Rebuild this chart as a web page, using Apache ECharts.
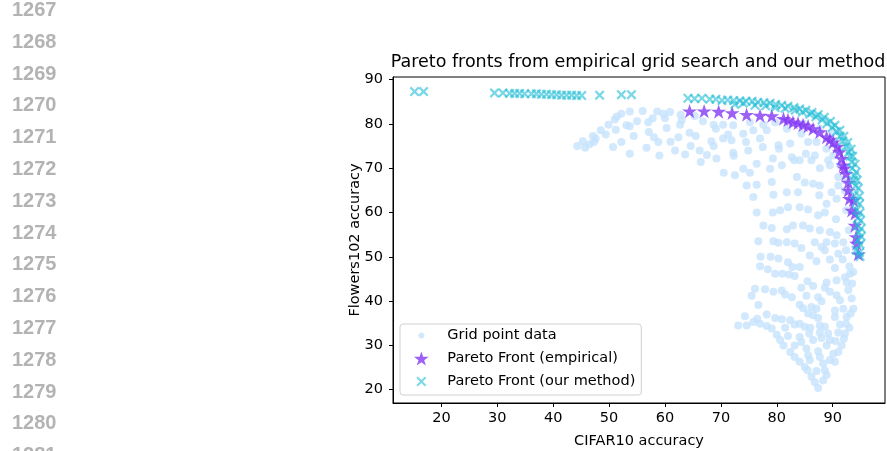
<!DOCTYPE html>
<html>
<head>
<meta charset="utf-8">
<script src="https://cdn.jsdelivr.net/npm/echarts@6/dist/echarts.min.js"></script>
<style>
  html, body { margin: 0; padding: 0; background: #fff; }
  #chart { width: 887px; height: 451px; }
</style>
</head>
<body>
<div id="chart"></div>
<script>
// line numbers of the page margin
const lineNumbers = [1267, 1268, 1269, 1270, 1271, 1272, 1273, 1274, 1275, 1276, 1277, 1278, 1279, 1280, 1281];

const xTicks = [20, 30, 40, 50, 60, 70, 80, 90];
const yTicks = [20, 30, 40, 50, 60, 70, 80, 90];

// grid search results (CIFAR10 acc, Flowers102 acc)
const gridPoints = [
    [44.3, 75.0], [45.3, 76.1], [45.7, 74.6], [46.5, 75.4], [47.1, 77.3], [47.6, 76.7], [47.3, 75.9],
    [48.5, 78.6], [49.4, 77.6], [49.9, 79.8], [50.7, 74.8], [51.0, 81.0], [51.4, 81.7], [52.2, 82.3],
    [51.2, 78.7], [52.2, 75.9], [53.1, 79.7], [53.7, 79.5], [53.7, 82.8], [53.7, 73.3], [54.4, 77.3],
    [55.0, 80.6], [56.0, 82.9], [56.7, 74.6], [57.1, 78.2], [57.0, 80.4], [57.8, 81.3], [58.6, 82.8],
    [58.8, 75.9], [59.0, 72.9], [59.7, 82.3], [60.0, 81.3], [60.9, 82.7], [60.3, 79.1], [61.8, 74.0],
    [62.4, 77.0], [62.7, 79.8], [62.8, 82.1], [63.6, 73.1], [64.4, 78.0], [64.6, 75.0], [65.3, 81.8],
    [66.2, 74.0], [66.4, 71.4], [66.8, 80.6], [68.3, 76.1], [68.7, 79.8], [68.7, 75.0], [69.1, 78.9],
    [69.2, 72.2], [70.4, 79.8], [70.4, 76.7], [72.2, 79.7], [71.3, 77.6], [71.9, 76.3], [72.2, 73.5],
    [72.3, 72.8], [70.5, 69.0], [74.0, 77.8], [74.5, 75.9], [74.9, 74.0], [75.2, 80.4], [75.8, 78.6],
    [76.4, 71.0], [77.0, 76.7], [77.5, 74.8], [77.6, 79.8], [78.2, 78.6], [78.8, 69.9], [79.3, 72.2],
    [79.7, 80.4], [80.3, 75.2], [80.4, 74.4], [80.9, 70.7], [81.8, 78.9], [82.4, 75.6], [82.7, 72.5],
    [83.1, 71.8], [84.1, 71.8], [84.4, 77.8], [84.7, 80.1], [85.2, 73.3], [85.6, 75.9], [86.2, 71.8],
    [86.8, 72.9], [87.1, 75.9], [87.7, 78.9], [87.7, 70.0], [88.9, 74.4], [89.2, 71.8], [89.5, 70.7],
    [89.8, 77.8], [90.1, 72.9], [91.0, 68.0], [72.5, 68.4], [74.0, 69.9], [75.2, 69.0], [74.6, 66.1],
    [76.4, 66.3], [79.1, 66.9], [79.4, 64.0], [81.8, 64.6], [83.6, 68.0], [83.8, 64.6], [85.0, 66.8],
    [86.5, 66.5], [87.6, 63.9], [87.7, 66.1], [88.9, 62.0], [89.8, 64.6], [90.7, 63.1], [91.0, 66.1],
    [75.8, 63.5], [76.4, 60.0], [79.3, 60.0], [80.6, 60.5], [82.0, 61.2], [84.1, 61.2], [85.6, 60.7],
    [87.4, 59.4], [88.6, 60.0], [90.6, 58.5], [77.6, 57.1], [79.1, 56.5], [81.8, 56.2], [82.9, 57.1],
    [84.7, 57.1], [85.9, 56.4], [87.7, 56.0], [89.5, 55.6], [90.7, 54.9], [76.7, 53.5], [79.4, 53.5],
    [80.3, 53.2], [81.8, 53.3], [83.2, 53.0], [84.4, 52.0], [86.8, 53.3], [88.9, 53.3], [90.4, 53.0],
    [91.9, 53.3], [91.3, 74.0], [92.2, 65.0], [92.4, 60.5], [92.9, 56.0], [91.3, 70.7], [92.2, 67.3],
    [77.1, 50.0], [78.9, 50.0], [80.3, 49.6], [82.0, 48.8], [82.8, 47.7], [84.1, 47.7], [85.9, 50.3],
    [87.1, 49.0], [88.0, 52.2], [88.6, 51.5], [89.5, 49.4], [90.4, 47.5], [91.0, 50.7], [91.8, 49.4],
    [92.4, 51.5], [77.0, 47.9], [78.4, 47.2], [79.7, 46.2], [81.0, 46.2], [82.2, 46.0], [83.2, 45.7],
    [85.5, 44.5], [86.5, 43.4], [88.9, 44.2], [90.7, 44.7], [92.2, 45.4], [93.1, 46.2], [93.7, 46.6],
    [92.5, 44.2], [84.4, 43.0], [76.1, 42.8], [75.5, 41.2], [77.9, 42.7], [79.4, 42.1], [80.9, 42.4],
    [81.5, 41.5], [82.7, 40.9], [85.3, 41.2], [87.4, 40.9], [88.0, 40.0], [88.6, 43.0], [89.5, 42.1],
    [90.7, 41.3], [91.3, 40.2], [93.4, 40.6], [93.7, 38.3], [93.2, 37.2], [76.7, 39.1], [84.1, 39.2],
    [84.7, 38.4], [86.2, 38.7], [87.1, 38.3], [90.4, 37.9], [91.9, 38.3], [74.3, 36.6], [78.2, 37.0],
    [79.7, 36.2], [80.9, 35.9], [82.4, 35.7], [85.6, 37.2], [86.5, 36.8], [87.4, 36.2], [90.4, 36.4],
    [92.5, 36.4], [73.1, 34.5], [74.6, 34.5], [75.8, 35.3], [77.0, 34.9], [78.2, 34.4], [79.1, 33.8],
    [83.2, 34.7], [84.1, 34.9], [85.0, 34.2], [87.7, 34.5], [88.6, 34.2], [91.3, 34.7], [92.4, 34.9],
    [80.0, 32.4], [82.0, 32.1], [84.1, 31.9], [85.8, 32.7], [87.7, 32.9], [89.2, 32.7], [91.0, 32.9],
    [92.2, 32.7], [80.6, 31.2], [81.2, 30.0], [83.2, 30.0], [84.4, 30.8], [86.5, 31.2], [88.0, 31.7],
    [89.5, 31.2], [91.6, 30.0], [82.4, 28.5], [83.2, 27.4], [85.3, 29.3], [87.4, 28.7], [88.9, 30.0],
    [90.1, 28.1], [91.0, 28.5], [84.1, 26.3], [85.0, 25.1], [85.6, 27.8], [85.9, 26.7], [87.7, 27.4],
    [88.3, 25.9], [89.5, 26.7], [90.4, 26.3], [85.5, 24.4], [86.2, 22.9], [86.8, 21.7], [87.4, 20.4],
    [88.6, 24.4], [88.9, 23.3], [88.3, 22.1], [87.1, 24.2],
    [93.0, 47.8], [93.5, 44.0], [92.8, 42.5], [93.0, 34.0], [92.0, 31.5], [90.5, 31.0], [86.0, 34.0],
    [81.5, 34.0], [76.5, 36.0], [58.0, 77.0], [61.0, 76.0], [65.5, 77.3], [67.5, 73.0], [63.0, 80.9]
];

const empiricalFront = [
    [64.4, 82.9], [67.0, 82.9], [69.6, 82.8], [72.0, 82.5], [74.6, 82.1], [77.0, 81.9], [79.1, 81.8],
    [81.2, 81.2], [82.0, 80.9], [82.9, 80.4], [83.8, 80.2], [84.7, 79.8], [85.6, 79.5], [86.5, 78.9],
    [87.7, 78.2], [88.9, 77.0], [89.5, 76.5], [90.1, 75.9], [90.8, 74.9], [91.2, 73.7], [91.6, 72.2],
    [91.9, 70.7], [92.1, 70.0], [92.4, 68.8], [92.8, 66.8], [92.8, 65.0], [93.0, 63.1], [93.7, 62.8],
    [93.4, 60.5], [94.0, 59.8], [94.0, 57.1], [94.2, 54.5], [94.3, 53.0], [94.6, 50.6]
];

const ourFront = [
    [15.2, 87.3], [16.8, 87.3],
    [29.5, 87.0], [31.0, 87.0], [32.2, 86.9], [33.1, 86.9], [34.0, 86.9], [34.9, 86.8], [36.1, 86.8],
    [37.0, 86.8], [37.9, 86.7], [38.8, 86.7], [39.7, 86.6], [40.6, 86.6], [41.5, 86.5], [42.4, 86.5],
    [43.3, 86.5], [44.2, 86.4], [45.1, 86.4],
    [48.3, 86.5], [52.2, 86.6], [54.0, 86.6],
    [64.1, 85.8], [65.3, 85.7], [66.6, 85.8], [68.0, 85.6], [69.1, 85.6], [70.2, 85.3], [71.2, 85.4],
    [72.3, 85.3], [73.4, 85.2], [74.5, 85.1], [75.6, 85.1], [76.6, 84.9], [77.7, 84.8], [78.8, 84.7],
    [79.8, 84.4], [80.9, 84.2], [82.0, 84.0], [83.1, 83.7], [84.1, 83.4], [85.2, 83.1], [86.3, 82.6],
    [87.4, 82.1], [88.5, 81.5], [89.6, 80.6], [90.4, 79.7], [91.3, 78.6], [92.0, 77.2], [92.7, 75.8],
    [93.3, 74.3], [93.6, 72.7], [94.0, 70.9], [94.2, 69.1], [94.4, 67.3], [94.6, 65.5], [94.8, 63.7],
    [94.8, 61.9], [94.9, 60.0], [95.0, 58.2], [95.1, 56.4], [95.1, 54.6], [94.9, 52.8], [94.8, 51.0],
    [94.9, 50.1],
    [72.5, 84.4], [76.1, 84.2], [79.7, 83.7], [83.3, 83.1], [85.9, 82.2], [88.1, 80.9], [89.9, 79.2],
    [91.3, 77.2], [92.4, 74.9], [93.1, 72.7], [93.5, 70.0], [93.7, 67.3], [93.9, 63.9], [94.2, 60.5],
    [94.4, 57.1], [94.6, 53.7],
    [74.0, 84.7], [78.0, 84.1], [81.5, 83.5], [84.6, 82.7], [87.0, 81.6], [89.0, 80.1], [90.7, 78.3],
    [91.8, 76.2], [92.9, 73.6], [93.4, 71.4], [93.9, 68.3], [94.1, 66.0], [94.3, 62.5], [94.6, 58.8],
    [94.7, 55.5], [94.2, 51.5]
];

const starPath = 'path://M50,2L61.8,37.6L99,37.6L68.9,59.6L80.4,95.2L50,73.2L19.6,95.2L31.1,59.6L1,37.6L38.2,37.6Z';
const crossPath = 'path://M0,1.6L1.6,0L5,3.4L8.4,0L10,1.6L6.6,5L10,8.4L8.4,10L5,6.6L1.6,10L0,8.4L3.4,5Z';
// legend icons padded with empty moves so they draw smaller than itemHeight
const dotIcon = 'path://M0,0M14,14M10,7A3,3,0,1,1,4,7A3,3,0,1,1,10,7Z';
const crossIcon = 'path://M0,0M14,14M2,3.4L3.4,2L7,5.6L10.6,2L12,3.4L8.4,7L12,10.6L10.6,12L7,8.4L3.4,12L2,10.6L5.6,7Z';
const font = 'DejaVu Sans';

const chart = echarts.init(document.getElementById('chart'));

const option = {
    animation: false,
    title: {
        text: 'Pareto fronts from empirical grid search and our method',
        left: 633,
        top: 48,
        textAlign: 'center',
        textStyle: { fontFamily: font, fontSize: 17.5, fontWeight: 'normal', color: '#000' }
    },
    graphic: lineNumbers.map((n, i) => ({
        type: 'text',
        left: 12,
        top: i * 31.8 + 0.5,
        style: { text: String(n), font: 'bold 20px "Liberation Sans"', fill: '#b3b3b3' }
    })),
    legend: {
        orient: 'vertical',
        left: 400,
        top: 324,
        padding: [4, 6, 6, 14],
        itemWidth: 42,
        itemHeight: 14,
        itemGap: 8,
        borderColor: '#d0d0d0',
        borderWidth: 1,
        borderRadius: 3,
        backgroundColor: 'rgba(255,255,255,0.8)',
        textStyle: { fontFamily: font, fontSize: 14.5, color: '#000', lineHeight: 14 },
        data: [
            { name: 'Grid point data', icon: dotIcon },
            { name: 'Pareto Front (empirical)' },
            { name: 'Pareto Front (our method)', icon: crossIcon }
        ]
    },
    grid: {
        left: 393, top: 77, width: 492, height: 326,
        outerBoundsMode: 'none',
        show: true, borderColor: '#000', borderWidth: 1
    },
    xAxis: {
        type: 'value',
        min: 11.34, max: 99.36,
        name: 'CIFAR10 accuracy',
        nameLocation: 'middle',
        nameGap: 31,
        nameMoveOverlap: false,
        nameTextStyle: { fontFamily: font, fontSize: 14.5, color: '#000' },
        splitLine: { show: false },
        axisLine: { lineStyle: { color: '#000' } },
        axisTick: { length: 4, lineStyle: { color: '#000' }, customValues: xTicks },
        axisLabel: { fontFamily: font, fontSize: 14.5, color: '#000', margin: 8, customValues: xTicks }
    },
    yAxis: {
        type: 'value',
        min: 17.0, max: 90.6,
        name: 'Flowers102 accuracy',
        nameLocation: 'middle',
        nameGap: 30,
        nameMoveOverlap: false,
        nameTextStyle: { fontFamily: font, fontSize: 14.5, color: '#000' },
        splitLine: { show: false },
        axisLine: { show: true, lineStyle: { color: '#000' } },
        axisTick: { show: true, length: 4, lineStyle: { color: '#000' }, customValues: yTicks },
        axisLabel: { fontFamily: font, fontSize: 14.5, color: '#000', margin: 10, customValues: yTicks }
    },
    series: [
        {
            name: 'Grid point data',
            type: 'scatter',
            data: gridPoints,
            symbol: 'circle',
            symbolSize: 8,
            itemStyle: { color: '#c5e2fc' }
        },
        {
            name: 'Pareto Front (empirical)',
            type: 'scatter',
            data: empiricalFront,
            symbol: starPath,
            symbolKeepAspect: true,
            symbolSize: 15,
            itemStyle: { color: '#8338f5', opacity: 0.8 }
        },
        {
            name: 'Pareto Front (our method)',
            type: 'scatter',
            data: ourFront,
            symbol: crossPath,
            symbolSize: 10,
            itemStyle: { color: '#22bcd6', opacity: 0.6 }
        }
    ]
};

chart.setOption(option);
</script>
</body>
</html>
